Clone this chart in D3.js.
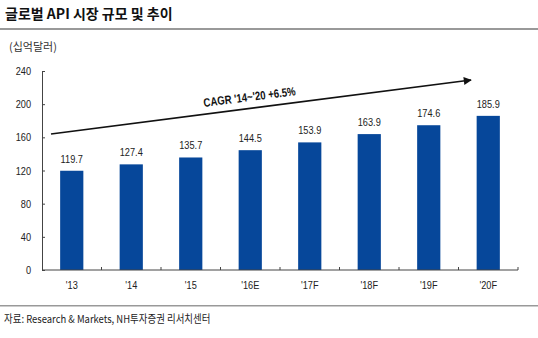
<!DOCTYPE html>
<html><head><meta charset="utf-8">
<script src="https://cdn.jsdelivr.net/npm/d3@7"></script>
<style>
body{margin:0;background:#fff;}
text{font-family:"Liberation Sans",Arial,sans-serif;}
.kr{font-family:"Noto Sans CJK KR","Noto Sans",sans-serif;}
</style></head><body>
<svg id="c" width="538" height="338"></svg>
<script>
const categories = ["'13","'14","'15","'16E","'17F","'18F","'19F","'20F"];
const values = [119.7,127.4,135.7,144.5,153.9,163.9,174.6,185.9];
const yTicks = [0,40,80,120,160,200,240];
const title = "글로벌 API 시장 규모 및 추이";
const unit = "(십억달러)";
const source = "자료: Research & Markets, NH투자증권 리서치센터";
const cagrLabel = "CAGR '14~'20 +6.5%";

const svg = d3.select("#c");
const x0 = 42, x1 = 518, yTop = 71, yBot = 270;
const x = d3.scaleBand().domain(categories).range([x0, x1]).paddingInner(0.61).paddingOuter(0.305);
const y = d3.scaleLinear().domain([0,240]).range([yBot, yTop]);
const SX = 0.8;

function txt(sel, px, py, sx, rot){
  return sel.attr("transform", `translate(${px},${py})` + (rot?` rotate(${rot})`:"") + ` scale(${sx},1)`);
}

svg.append("text").attr("class","kr").attr("x",5).attr("y",19).attr("font-size",14).attr("font-weight","bold").attr("fill","#111").text(title);
svg.append("rect").attr("x",0).attr("y",28).attr("width",538).attr("height",2).attr("fill","#999");
svg.append("text").attr("class","kr").attr("x",9).attr("y",51).attr("font-size",11).attr("fill","#333").text(unit);

// bars
svg.selectAll(".bar").data(values).enter().append("rect")
  .attr("x",(d,i)=>x(categories[i])).attr("width",x.bandwidth())
  .attr("y",d=>y(d)).attr("height",d=>yBot-y(d)).attr("fill","#06479a");
svg.selectAll(".lbl").data(values).enter().append("text")
  .each(function(d,i){ txt(d3.select(this), x(categories[i])+x.bandwidth()/2, y(d)-8, SX); })
  .attr("text-anchor","middle").attr("font-size",11.5).attr("fill","#222").text(d=>d.toFixed(1));

// y axis
const ya = svg.append("g").attr("transform",`translate(${x0},0)`)
  .call(d3.axisRight(y).tickValues(yTicks).tickSize(3).tickFormat(""));
ya.select(".domain").attr("stroke","#444");
ya.selectAll(".tick line").attr("stroke","#444");
svg.selectAll(".yl").data(yTicks).enter().append("text")
  .each(function(d){ txt(d3.select(this), 31, y(d)+4, SX); })
  .attr("text-anchor","end").attr("font-size",11.5).attr("fill","#222").text(d=>d);

// x axis
svg.append("line").attr("x1",x0).attr("x2",x1).attr("y1",yBot).attr("y2",yBot).attr("stroke","#444");
const step = x.step();
const bounds = d3.range(1, categories.length+1).map(i=>x0+i*step);
svg.selectAll(".xt").data(bounds).enter().append("line")
  .attr("x1",d=>d).attr("x2",d=>d).attr("y1",yBot).attr("y2",yBot-3).attr("stroke","#444");
svg.selectAll(".xl").data(categories).enter().append("text")
  .each(function(d){ txt(d3.select(this), x(d)+x.bandwidth()/2, 289, SX); })
  .attr("text-anchor","middle").attr("font-size",11.5).attr("fill","#222").text(d=>d);

// arrow
const defs = svg.append("defs");
defs.append("marker").attr("id","ah").attr("viewBox","0 0 10 10").attr("refX",9).attr("refY",5)
  .attr("markerWidth",10).attr("markerHeight",8).attr("orient","auto").attr("markerUnits","userSpaceOnUse")
  .append("path").attr("d","M0,0L10,5L0,10z").attr("fill","#111");
svg.append("line").attr("x1",51).attr("y1",134).attr("x2",471).attr("y2",80)
  .attr("stroke","#111").attr("stroke-width",1.6).attr("marker-end","url(#ah)");
txt(svg.append("text"), 250, 101, SX, -7.3).attr("text-anchor","middle")
  .attr("font-size",12).attr("font-weight","bold").attr("fill","#111").text(cagrLabel);

svg.append("rect").attr("x",0).attr("y",305).attr("width",538).attr("height",1.5).attr("fill","#999");
txt(svg.append("text").attr("class","kr"), 4, 323, 0.86).attr("font-size",11).attr("fill","#222").text(source);
</script></body></html>
